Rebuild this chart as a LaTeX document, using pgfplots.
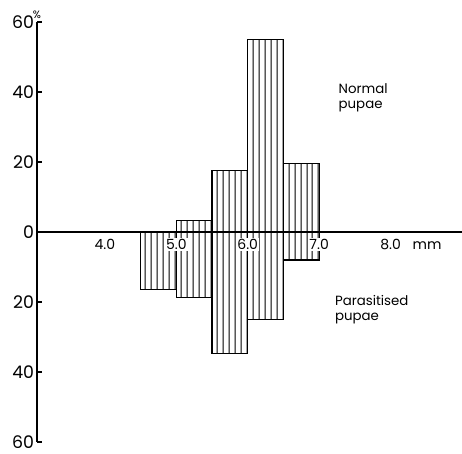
\documentclass[border=0pt]{standalone}
\usepackage{fontspec}
\setmainfont{Poppins}
\usepackage{pgfplots}
\pgfplotsset{compat=1.18}
\usetikzlibrary{patterns.meta}

% six hatch intervals per half-millimetre class
\tikzset{hatch/.style={draw=black, line width=0.8pt,
  pattern={Lines[angle=90,distance=4.4643pt,xshift=2.232pt,line width=0.75pt]}}}

\begin{document}
\begin{tikzpicture}
\begin{axis}[
  scale only axis, clip=false, axis on top,
  width=318.75pt, height=315pt,
  xmin=3.05, xmax=9, ymin=-60, ymax=60,
  axis x line*=middle, axis y line*=left,
  axis line style={line width=0.9pt},
  xtick={4,5,6,7,8}, xticklabels={4.0,5.0,6.0,7.0,8.0},
  ytick={-60,-40,...,60}, yticklabels={60,40,20,0,20,40,60},
  tick align=inside,
  major tick length=3.75pt,
  x tick style={draw=none},
  y tick style={line width=0.8pt, black},
  xticklabel style={font=\fontsize{10.5}{12}\selectfont, anchor=base,
    yshift=-13.5pt, fill=white, inner sep=1pt},
  yticklabel style={font=\fontsize{13}{15}\selectfont, inner sep=2pt},
  /pgf/number format/assume math mode=true,
]
% normal pupae above the axis
\addplot[ybar, bar width=0.5, bar shift=0pt, hatch]
  coordinates {(5.25,3.2) (5.75,17.5) (6.25,55) (6.75,19.7)};
% parasitised pupae below the axis
\addplot[ybar, bar width=0.5, bar shift=0pt, hatch]
  coordinates {(4.75,-16.5) (5.25,-18.7) (5.75,-34.7) (6.25,-25) (6.75,-8)};

\node[font=\fontsize{10.5}{12}\selectfont, anchor=base, yshift=-13.5pt] at (axis cs:8.51,0) {mm};
\node[font=\fontsize{10}{11.5}\selectfont, anchor=north west, align=left, inner sep=0pt]
  at (axis cs:7.27,42.6) {Normal\\pupae};
\node[font=\fontsize{10}{11.5}\selectfont, anchor=north west, align=left, inner sep=0pt]
  at (axis cs:7.22,-18) {Parasitised\\pupae};
\node[font=\footnotesize, anchor=south, inner sep=1pt, yshift=1.5pt]
  at (axis cs:3.05,60) {\%};
\end{axis}
\pgfresetboundingbox
\path[use as bounding box]
  ([shift={(-27.75pt,-9pt)}]current axis.south west)
  rectangle ([shift={(0pt,16.5pt)}]current axis.north east);
\end{tikzpicture}
\end{document}
